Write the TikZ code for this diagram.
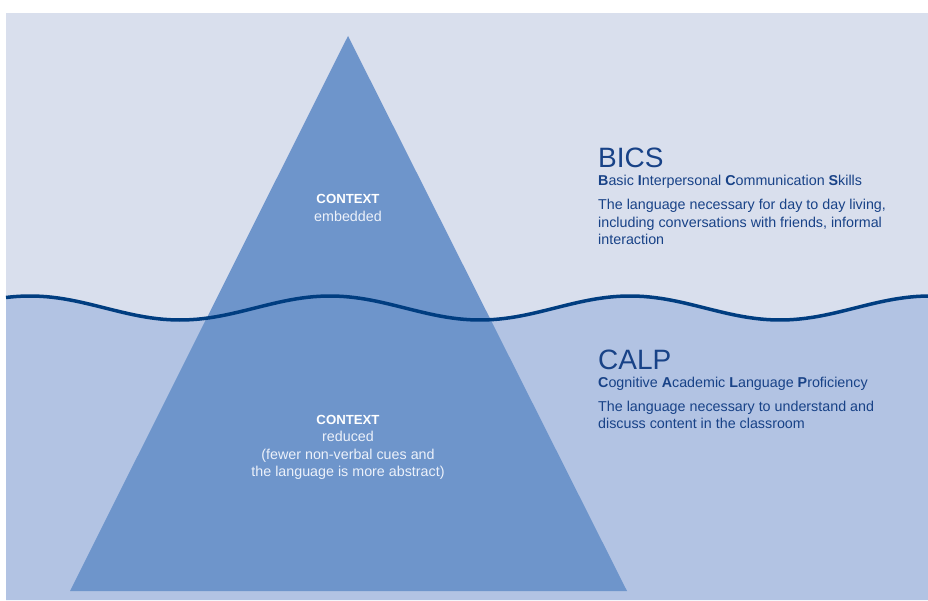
\documentclass[tikz,border=0pt]{standalone}
\usepackage{fontspec}
\setmainfont{Liberation Sans}
\definecolor{skyback}{RGB}{217,223,237}
\definecolor{seaback}{RGB}{178,195,227}
\definecolor{berg}{RGB}{110,149,203}
\definecolor{wave}{RGB}{0,61,128}
\definecolor{ink}{RGB}{24,66,135}
\definecolor{snow}{RGB}{236,241,250}
\tikzset{
  heading/.style={ink,anchor=base west,inner sep=0pt,font=\fontsize{28}{30}\selectfont},
  fullname/.style={ink,anchor=base west,inner sep=0pt,font=\fontsize{14.3}{17.5}\selectfont},
  bodytext/.style={ink,anchor=base west,inner sep=0pt,align=left,font=\fontsize{14.3}{17.5}\selectfont},
  bergtext/.style={snow,anchor=base,inner sep=0pt,align=center,font=\fontsize{14.3}{17.5}\selectfont}
}
\newcommand{\ctxword}{{\fontsize{13.2}{17.5}\selectfont\bfseries\color{white}CONTEXT}}
\begin{document}
\begin{tikzpicture}[x=1pt,y=-1pt]
    \useasboundingbox (0,0) rectangle (928,601);
    \fill[skyback] (6,13) rectangle (928,600);
    \fill[seaback] plot[domain=6:928,samples=160] (\x,{308-12*cos((\x-30)*1.2)}) -- (928,600) -- (6,600) -- cycle;
    \fill[berg] (348,36) -- (627,591) -- (70,591) -- cycle;
    \draw[wave,line width=3.5pt] plot[domain=6:928,samples=160] (\x,{308-12*cos((\x-30)*1.2)});
    \node[bergtext] (ctxtop) at (348,221.5) {\ctxword\\embedded};
    \node[bergtext] (ctxbottom) at (348,476.5) {\ctxword\\reduced\\(fewer non-verbal cues and\\the language is more abstract)};
    \node[heading] (bics) at (598,168) {BICS};
    \node[fullname] (bicsfull) at (598,186) {\textbf{B}asic \textbf{I}nterpersonal \textbf{C}ommunication \textbf{S}kills};
    \node[bodytext] (bicstext) at (598,245) {The language necessary for day to day living,\\including conversations with friends, informal\\interaction};
    \node[heading] (calp) at (598,369) {CALP};
    \node[fullname] (calpfull) at (598,387) {\textbf{C}ognitive \textbf{A}cademic \textbf{L}anguage \textbf{P}roficiency};
    \node[bodytext] (calptext) at (598,428.5) {The language necessary to understand and\\discuss content in the classroom};
  \end{tikzpicture}
\end{document}
